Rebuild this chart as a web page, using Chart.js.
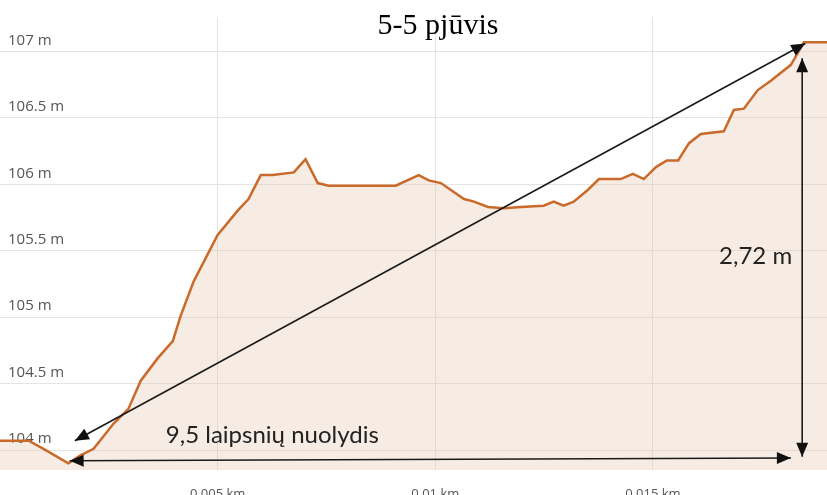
<!DOCTYPE html>
<html>
<head>
<meta charset="utf-8">
<script src="https://cdn.jsdelivr.net/npm/chart.js@4/dist/chart.umd.min.js"></script>
<style>
  body { margin: 0; background: #fff; }
</style>
</head>
<body>
<canvas id="graph" width="827" height="495"></canvas>
<script>
// distance along the section (km) and elevation (m)
const distKm = [0, 0.00066, 0.00105, 0.00157, 0.00185, 0.00215, 0.00261, 0.00295, 0.00323, 0.00362,
  0.00397, 0.00415, 0.00445, 0.00500, 0.00548, 0.00571, 0.00599, 0.00626, 0.00675, 0.00702,
  0.00730, 0.00755, 0.00909, 0.00962, 0.00985, 0.01013, 0.01066, 0.01089, 0.01121, 0.01158,
  0.01197, 0.01249, 0.01272, 0.01295, 0.01318, 0.01351, 0.01376, 0.01426, 0.01454, 0.01479,
  0.01507, 0.01532, 0.01558, 0.01583, 0.01610, 0.01663, 0.01686, 0.01709, 0.01741, 0.01771,
  0.01817, 0.01833, 0.01847, 0.01902];
const elevM = [104.07, 104.07, 104.00, 103.90, 103.96, 104.01, 104.20, 104.31, 104.52, 104.69,
  104.82, 105.01, 105.27, 105.62, 105.81, 105.89, 106.07, 106.07, 106.09, 106.19,
  106.01, 105.99, 105.99, 106.07, 106.03, 106.01, 105.89, 105.87, 105.83, 105.82,
  105.83, 105.84, 105.87, 105.84, 105.87, 105.96, 106.04, 106.04, 106.08, 106.04,
  106.13, 106.18, 106.18, 106.31, 106.38, 106.40, 106.56, 106.57, 106.71, 106.78,
  106.90, 106.99, 107.07, 107.07];

const yTicks = [104, 104.5, 105, 105.5, 106, 106.5, 107];
const xTicks = [0.005, 0.01, 0.015];

// annotation arrows, in data units (km, m)
const arrows = [
  { from: [0.00172, 104.07], to: [0.01850, 107.06] },
  { from: [0.00160, 103.92], to: [0.01817, 103.94] },
  { from: [0.01843, 106.95], to: [0.01843, 103.95] }
];
const notes = [
  { text: '9,5 laipsnių nuolydis', at: [0.00381, 104.05] },
  { text: '2,72 m', at: [0.01652, 105.40] }
];

const annotate = {
  id: 'annotate',
  afterDatasetsDraw(chart) {
    const ctx = chart.ctx, sx = chart.scales.x, sy = chart.scales.y;
    const px = p => [sx.getPixelForValue(p[0]), sy.getPixelForValue(p[1])];
    ctx.save();
    ctx.strokeStyle = '#1a1a1a';
    ctx.fillStyle = '#111';
    ctx.lineWidth = 1.6;
    arrows.forEach(a => {
      const [x1, y1] = px(a.from), [x2, y2] = px(a.to);
      ctx.beginPath(); ctx.moveTo(x1, y1); ctx.lineTo(x2, y2); ctx.stroke();
      head(ctx, x2, y2, x1, y1);
      head(ctx, x1, y1, x2, y2);
    });
    ctx.font = '24px Lato';
    ctx.textAlign = 'left';
    ctx.textBaseline = 'alphabetic';
    ctx.fillStyle = '#222';
    notes.forEach(n => {
      const [x, y] = px(n.at);
      ctx.fillText(n.text, x, y);
    });
    ctx.font = '30px "Liberation Serif"';
    ctx.textAlign = 'center';
    ctx.fillStyle = '#000';
    ctx.fillText('5-5 pjūvis', 438, 34);
    ctx.restore();
  }
};

// arrowhead with its tip at (tx,ty), pointing away from (fx,fy)
function head(ctx, tx, ty, fx, fy) {
  const ang = Math.atan2(ty - fy, tx - fx), len = 14, w = 6;
  ctx.beginPath();
  ctx.moveTo(tx, ty);
  ctx.lineTo(tx - len * Math.cos(ang) + w * Math.sin(ang), ty - len * Math.sin(ang) - w * Math.cos(ang));
  ctx.lineTo(tx - len * Math.cos(ang) - w * Math.sin(ang), ty - len * Math.sin(ang) + w * Math.cos(ang));
  ctx.closePath();
  ctx.fill();
}

let myChart = document.getElementById('graph').getContext('2d');

let profile = new Chart(myChart, {
  type: 'line',
  data: {
    datasets: [{
      data: distKm.map((d, i) => ({ x: d, y: elevM[i] })),
      borderColor: '#c96a2b',
      borderWidth: 2.5,
      backgroundColor: 'rgba(230,200,175,0.35)',
      fill: 'start',
      tension: 0,
      pointRadius: 0
    }]
  },
  options: {
    responsive: false,
    animation: false,
    layout: { padding: { top: 13, left: 0, right: 0, bottom: 0 } },
    plugins: { legend: { display: false }, tooltip: { enabled: false } },
    scales: {
      x: {
        type: 'linear',
        min: 0,
        max: 0.019,
        border: { display: false },
        grid: { color: '#e4e4e4', drawTicks: false },
        afterBuildTicks: axis => { axis.ticks = xTicks.map(v => ({ value: v })); },
        afterFit: axis => { axis.height = 25; },
        ticks: {
          padding: 16,
          color: '#555',
          font: { family: 'Open Sans', size: 13 },
          maxRotation: 0,
          callback: v => v + ' km'
        }
      },
      y: {
        min: 103.85,
        max: 107.26,
        border: { display: false },
        grid: { color: '#e4e4e4', drawTicks: false },
        afterBuildTicks: axis => { axis.ticks = yTicks.map(v => ({ value: v })); },
        afterFit: axis => { axis.width = 0; },
        ticks: {
          mirror: true,
          padding: 8,
          labelOffset: -11,
          color: '#555',
          font: { family: 'Open Sans', size: 15 },
          callback: v => v + ' m'
        }
      }
    }
  },
  plugins: [annotate]
});
</script>
</body>
</html>
